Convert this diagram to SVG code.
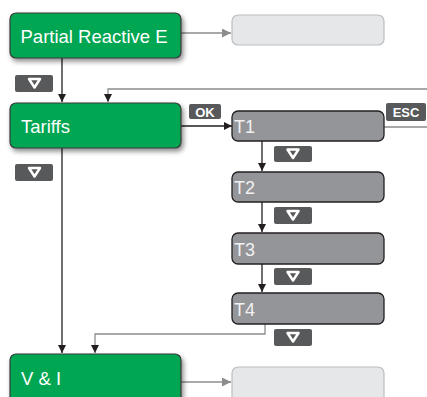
<svg xmlns="http://www.w3.org/2000/svg" width="427" height="397" viewBox="0 0 427 397">
<defs>
<style>
.green{fill:#00a651;stroke:#3a3a3a;stroke-width:1.2}
.tbox{fill:#939598;stroke:#231f20;stroke-width:1.3}
.ghost{fill:#e6e7e8;stroke:#bcbec0;stroke-width:1.2}
.lbl{font-family:"Liberation Sans",Arial,sans-serif;fill:#ffffff;font-size:18.5px}
.tl{font-family:"Liberation Sans",Arial,sans-serif;fill:#f1f1f2;font-size:18px}
.badge{fill:#58595b}
.btxt{font-family:"Liberation Sans",Arial,sans-serif;fill:#ffffff;font-size:13px;font-weight:bold;text-anchor:middle}
.tri{fill:none;stroke:#ffffff;stroke-width:2.5;stroke-linejoin:round}
.blk{fill:none;stroke:#231f20;stroke-width:1.3}
.gry{fill:none;stroke:#8a8c8e;stroke-width:1.3}
</style>
<marker id="ab" viewBox="0 0 10 10" refX="10" refY="5" markerWidth="8" markerHeight="8" markerUnits="userSpaceOnUse" orient="auto"><path d="M0,0 L10,5 L0,10 z" fill="#231f20"/></marker>
<marker id="ag" viewBox="0 0 10 10" refX="10" refY="5" markerWidth="9" markerHeight="9" markerUnits="userSpaceOnUse" orient="auto"><path d="M0,0 L10,5 L0,10 z" fill="#8a8c8e"/></marker>
<filter id="sh" x="-10%" y="-20%" width="130%" height="160%"><feDropShadow dx="2" dy="3" stdDeviation="2.5" flood-color="#000" flood-opacity="0.45"/></filter>
</defs>
<g id="connectors">
<path class="gry" d="M181,33 H231" marker-end="url(#ag)"/>
<path class="blk" d="M62,58 V102" marker-end="url(#ab)"/>
<path class="gry" d="M384,127 H432 V89 H108 V102" marker-end="url(#ab)"/>
<path class="blk" d="M181,126 H232" marker-end="url(#ab)"/>
<path class="blk" d="M262,141 V171" marker-end="url(#ab)"/>
<path class="blk" d="M262,202 V232" marker-end="url(#ab)"/>
<path class="blk" d="M262,264 V292" marker-end="url(#ab)"/>
<path class="gry" d="M265,324 V334 H95 V353" marker-end="url(#ab)"/>
<path class="blk" d="M62,148 V353" marker-end="url(#ab)"/>
<path class="gry" d="M181,382 H231" marker-end="url(#ag)"/>
</g>
<g id="badges">
<g id="b1"><rect class="badge" x="15" y="75" width="38" height="17" rx="2"/><polygon class="tri" points="29,79 40,79 34.5,87.5"/></g>
<g id="b2"><rect class="badge" x="15" y="164" width="38" height="17" rx="2"/><polygon class="tri" points="29,168 40,168 34.5,176.5"/></g>
<g id="bok"><rect class="badge" x="189" y="104" width="32" height="15" rx="2"/><text class="btxt" x="205" y="116.5">OK</text></g>
<g id="besc"><rect class="badge" x="386" y="103" width="40" height="18" rx="2"/><text class="btxt" x="406" y="117">ESC</text></g>
<g id="b3"><rect class="badge" x="274" y="146" width="38" height="16" rx="2"/><polygon class="tri" points="287.5,149.5 298.5,149.5 293,158"/></g>
<g id="b4"><rect class="badge" x="274" y="207" width="38" height="17" rx="2"/><polygon class="tri" points="287.5,211 298.5,211 293,219.5"/></g>
<g id="b5"><rect class="badge" x="274" y="268" width="38" height="17" rx="2"/><polygon class="tri" points="287.5,272 298.5,272 293,280.5"/></g>
<g id="b6"><rect class="badge" x="274" y="329" width="38" height="17" rx="2"/><polygon class="tri" points="287.5,333 298.5,333 293,341.5"/></g>
</g>
<g id="n-pre"><rect class="green" x="10" y="13" width="171" height="45" rx="6" filter="url(#sh)"/><text class="lbl" x="20.5" y="43">Partial Reactive E</text></g>
<g id="n-pre-next"><rect class="ghost" x="232" y="15" width="152" height="30" rx="6"/></g>
<g id="n-tariffs"><rect class="green" x="10" y="103" width="171" height="45" rx="6" filter="url(#sh)"/><text class="lbl" x="21" y="133">Tariffs</text></g>
<g id="n-t1"><rect class="tbox" x="232" y="111" width="152" height="30" rx="6"/><text class="tl" x="234" y="133">T1</text></g>
<g id="n-t2"><rect class="tbox" x="232" y="172" width="152" height="30" rx="6"/><text class="tl" x="234" y="194">T2</text></g>
<g id="n-t3"><rect class="tbox" x="232" y="233" width="152" height="31" rx="6"/><text class="tl" x="234" y="255.5">T3</text></g>
<g id="n-t4"><rect class="tbox" x="232" y="293" width="152" height="31" rx="6"/><text class="tl" x="234" y="315.5">T4</text></g>
<g id="n-vi"><rect class="green" x="10" y="354" width="171" height="50" rx="6" filter="url(#sh)"/><text class="lbl" x="21" y="385">V &amp; I</text></g>
<g id="n-vi-next"><rect class="ghost" x="232" y="367" width="152" height="40" rx="6"/></g>
</svg>
